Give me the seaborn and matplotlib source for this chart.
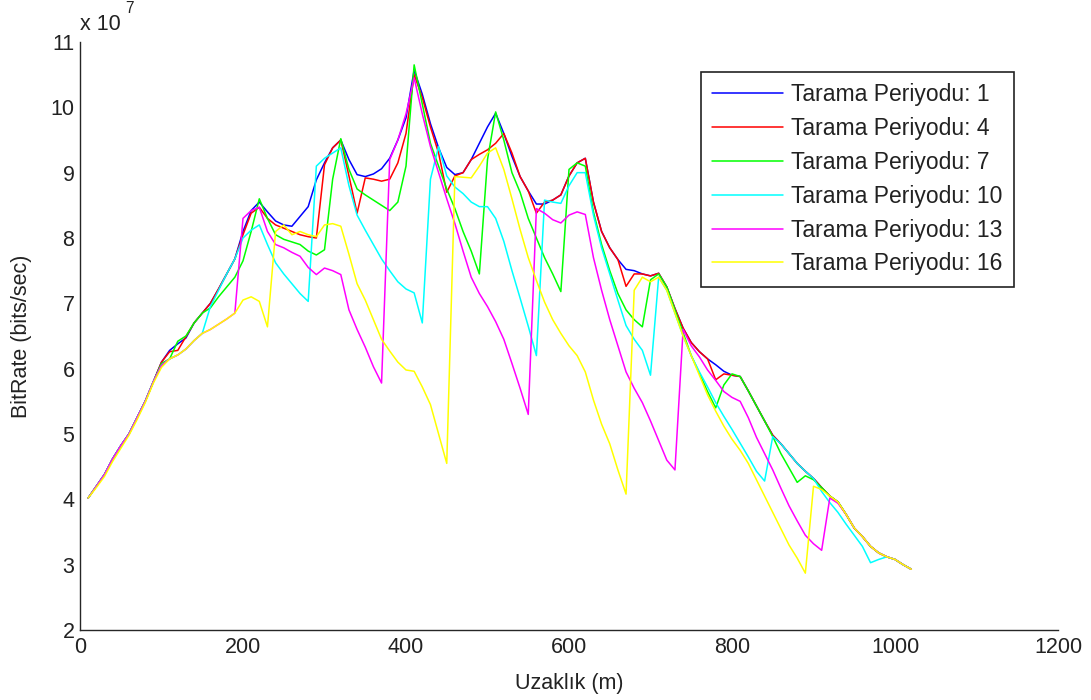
import numpy as np
import pandas as pd
import matplotlib
matplotlib.use("Agg")
import matplotlib.pyplot as plt
import seaborn as sns

# Distance grid (m)
distance = list(range(10, 1030, 10))

# BitRate values in units of 1e7 bits/sec
p1 = [4.02, 4.20, 4.38, 4.62, 4.82, 5.00, 5.25, 5.50, 5.80, 6.10,
      6.28, 6.38, 6.47, 6.70, 6.85, 7.00, 7.22, 7.45, 7.68, 8.10,
      8.42, 8.55, 8.40, 8.26, 8.20, 8.18, 8.33, 8.48, 8.89, 9.15,
      9.38, 9.50, 9.20, 8.97, 8.94, 8.98, 9.06, 9.22, 9.50, 9.84,
      10.57, 10.20, 9.75, 9.38, 9.08, 8.97, 9.00, 9.20, 9.45, 9.70,
      9.91, 9.60, 9.25, 8.94, 8.72, 8.52, 8.52, 8.58, 8.66, 8.95,
      9.15, 9.22, 8.55, 8.10, 7.85, 7.67, 7.52, 7.50, 7.45, 7.42,
      7.46, 7.25, 6.92, 6.62, 6.40, 6.26, 6.15, 6.06, 5.96, 5.90,
      5.88, 5.66, 5.43, 5.20, 4.98, 4.85, 4.70, 4.55, 4.43, 4.32,
      4.18, 4.05, 3.96, 3.77, 3.56, 3.43, 3.28, 3.18, 3.12, 3.08,
      3.00, 2.93]

p4 = [4.02, 4.20, 4.38, 4.62, 4.82, 5.00, 5.25, 5.50, 5.80, 6.10,
      6.26, 6.28, 6.49, 6.70, 6.85, 7.00, 7.22, 7.45, 7.68, 8.05,
      8.38, 8.47, 8.30, 8.20, 8.15, 8.10, 8.05, 8.02, 8.00, 9.12,
      9.38, 9.50, 8.95, 8.38, 8.92, 8.90, 8.87, 8.90, 9.15, 9.60,
      10.50, 10.15, 9.70, 9.30, 8.70, 8.95, 9.00, 9.20, 9.28, 9.35,
      9.45, 9.60, 9.30, 8.94, 8.72, 8.38, 8.55, 8.58, 8.66, 8.95,
      9.15, 9.22, 8.55, 8.10, 7.85, 7.67, 7.26, 7.45, 7.45, 7.42,
      7.46, 7.25, 6.92, 6.62, 6.40, 6.26, 6.15, 5.83, 5.92, 5.90,
      5.88, 5.66, 5.43, 5.20, 4.98, 4.85, 4.70, 4.55, 4.43, 4.32,
      4.18, 4.05, 3.96, 3.77, 3.56, 3.43, 3.28, 3.18, 3.12, 3.08,
      3.00, 2.93]

p7 = [4.02, 4.20, 4.38, 4.62, 4.82, 5.00, 5.25, 5.50, 5.80, 6.08,
      6.15, 6.42, 6.50, 6.70, 6.85, 6.93, 7.10, 7.25, 7.40, 7.65,
      8.10, 8.60, 8.30, 8.05, 7.98, 7.94, 7.90, 7.80, 7.74, 7.82,
      8.90, 9.52, 9.05, 8.75, 8.66, 8.58, 8.50, 8.42, 8.55, 9.10,
      10.65, 10.05, 9.45, 9.10, 8.75, 8.45, 8.10, 7.80, 7.45, 9.20,
      9.93, 9.50, 9.00, 8.70, 8.30, 8.00, 7.70, 7.45, 7.18, 9.05,
      9.15, 9.10, 8.40, 7.90, 7.50, 7.15, 6.90, 6.75, 6.64, 7.36,
      7.45, 7.25, 6.90, 6.55, 6.20, 5.93, 5.65, 5.40, 5.75, 5.92,
      5.88, 5.66, 5.43, 5.20, 4.96, 4.70, 4.48, 4.26, 4.36, 4.30,
      4.18, 4.05, 3.96, 3.77, 3.56, 3.43, 3.28, 3.18, 3.12, 3.08,
      3.00, 2.93]

p10 = [4.02, 4.20, 4.38, 4.62, 4.82, 5.00, 5.25, 5.50, 5.80, 6.05,
       6.15, 6.21, 6.30, 6.43, 6.54, 6.95, 7.20, 7.45, 7.68, 8.00,
       8.12, 8.20, 7.90, 7.62, 7.45, 7.30, 7.15, 7.03, 9.10, 9.22,
       9.30, 9.38, 8.80, 8.35, 8.12, 7.90, 7.68, 7.50, 7.33, 7.22,
       7.16, 6.70, 8.90, 9.40, 8.95, 8.78, 8.68, 8.55, 8.48, 8.48,
       8.30, 7.95, 7.50, 7.08, 6.65, 6.20, 8.58, 8.55, 8.53, 8.80,
       9.00, 9.00, 8.35, 7.85, 7.45, 7.05, 6.66, 6.45, 6.28, 5.90,
       7.40, 7.20, 6.85, 6.50, 6.20, 5.95, 5.72, 5.48, 5.27, 5.07,
       4.86, 4.65, 4.43, 4.28, 4.96, 4.85, 4.70, 4.55, 4.43, 4.32,
       4.12, 3.95, 3.80, 3.62, 3.45, 3.28, 3.03, 3.08, 3.12, 3.08,
       3.00, 2.93]

p13 = [4.02, 4.20, 4.38, 4.62, 4.82, 5.00, 5.25, 5.50, 5.80, 6.05,
       6.15, 6.21, 6.30, 6.43, 6.54, 6.60, 6.68, 6.76, 6.85, 8.30,
       8.42, 8.47, 8.10, 7.90, 7.85, 7.78, 7.72, 7.55, 7.44, 7.54,
       7.50, 7.44, 6.90, 6.60, 6.33, 6.03, 5.78, 9.20, 9.50, 9.90,
       10.45, 9.90, 9.40, 9.00, 8.60, 8.22, 7.80, 7.40, 7.15, 6.95,
       6.72, 6.45, 6.08, 5.70, 5.30, 8.45, 8.38, 8.28, 8.23, 8.35,
       8.40, 8.36, 7.70, 7.20, 6.75, 6.35, 5.95, 5.70, 5.48, 5.20,
       4.90, 4.60, 4.45, 6.60, 6.35, 6.18, 5.98, 5.82, 5.65, 5.56,
       5.50, 5.25, 4.95, 4.70, 4.45, 4.17, 3.90, 3.67, 3.45, 3.32,
       3.22, 4.02, 3.94, 3.77, 3.56, 3.43, 3.28, 3.18, 3.12, 3.08,
       3.00, 2.93]

p16 = [4.02, 4.18, 4.35, 4.58, 4.78, 4.98, 5.22, 5.48, 5.78, 6.02,
       6.15, 6.21, 6.30, 6.43, 6.54, 6.60, 6.68, 6.76, 6.85, 7.05,
       7.10, 7.03, 6.64, 8.10, 8.20, 8.05, 8.10, 8.05, 8.02, 8.20,
       8.22, 8.18, 7.75, 7.30, 7.05, 6.75, 6.45, 6.27, 6.10, 5.98,
       5.96, 5.72, 5.45, 5.00, 4.55, 8.94, 8.93, 8.92, 9.10, 9.30,
       9.38, 9.05, 8.60, 8.13, 7.70, 7.35, 7.02, 6.75, 6.54, 6.35,
       6.20, 5.95, 5.52, 5.15, 4.85, 4.45, 4.08, 7.20, 7.40, 7.33,
       7.40, 7.20, 6.85, 6.50, 6.20, 5.90, 5.60, 5.35, 5.12, 4.92,
       4.75, 4.55, 4.30, 4.05, 3.80, 3.55, 3.30, 3.10, 2.87, 4.20,
       4.15, 4.05, 3.96, 3.77, 3.56, 3.43, 3.28, 3.18, 3.12, 3.08,
       3.00, 2.93]

labels = ["Tarama Periyodu: 1", "Tarama Periyodu: 4", "Tarama Periyodu: 7",
          "Tarama Periyodu: 10", "Tarama Periyodu: 13", "Tarama Periyodu: 16"]
series = [p1, p4, p7, p10, p13, p16]
colors = ["#0000ff", "#ff0000", "#00ff00", "#00ffff", "#ff00ff", "#ffff00"]

frames = []
for lab, vals in zip(labels, series):
    frames.append(pd.DataFrame({"Uzaklik": distance, "BitRate": vals, "Seri": lab}))
df = pd.concat(frames, ignore_index=True)

sns.set_style("white")
plt.rcParams["font.family"] = ["Liberation Sans", "DejaVu Sans"]

fig = plt.figure(figsize=(10.91, 7.0), dpi=100)
ax = fig.add_axes([80 / 1091, 1 - 630 / 700, (1058 - 80) / 1091, (630 - 42) / 700])

sns.lineplot(data=df, x="Uzaklik", y="BitRate", hue="Seri", palette=colors,
             hue_order=labels, estimator=None, sort=False, linewidth=1.1, ax=ax)

ax.set_xlim(0, 1200)
ax.set_ylim(2, 11)
ax.set_xticks([0, 200, 400, 600, 800, 1000, 1200])
ax.set_yticks(list(range(2, 12)))
ax.set_yticklabels([str(v) for v in range(2, 12)])

fs = 15.5
ax.tick_params(axis="both", direction="in", length=5, width=1, colors="#262626",
               labelsize=fs, labelcolor="#222222")
ax.tick_params(axis="x", pad=5)
ax.tick_params(axis="y", pad=4)
for side in ["top", "right"]:
    ax.spines[side].set_visible(False)
for side in ["left", "bottom"]:
    ax.spines[side].set_color("#262626")
    ax.spines[side].set_linewidth(1.0)

ax.set_xlabel("Uzaklık (m)", fontsize=fs, color="#222222", labelpad=11)
ax.set_ylabel("BitRate (bits/sec)", fontsize=fs, color="#222222", labelpad=13)

ax.text(0.0, 1.012, "x 10", transform=ax.transAxes, fontsize=fs,
        color="#222222", ha="left", va="bottom")
ax.text(0.046, 1.045, "7", transform=ax.transAxes, fontsize=fs * 0.72,
        color="#222222", ha="left", va="bottom")

lfs = 16.5
handles, labs = ax.get_legend_handles_labels()
leg = ax.legend(handles, labs, loc="upper right", bbox_to_anchor=(0.955, 0.949),
                borderaxespad=0, fontsize=lfs, frameon=True, fancybox=False,
                edgecolor="#222222", framealpha=1, handlelength=3.1,
                handletextpad=0.35, labelspacing=0.47, borderpad=0.5)
leg.get_frame().set_linewidth(1.2)
for t in leg.get_texts():
    t.set_color("#222222")

fig.savefig("out.png", dpi=100, facecolor="white")
